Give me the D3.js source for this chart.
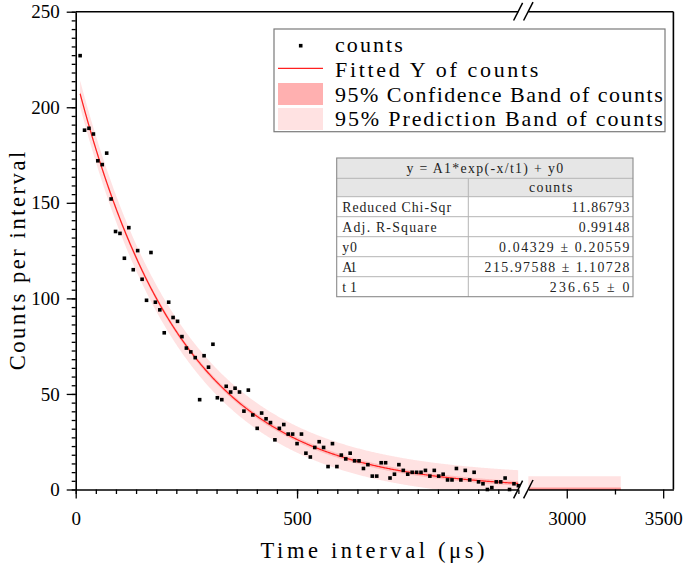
<!DOCTYPE html>
<html><head><meta charset="utf-8">
<script src="https://cdn.jsdelivr.net/npm/d3@7"></script>
<style>body{margin:0;background:#fff}svg{display:block}</style>
</head><body>
<svg id="c" width="685" height="568"></svg>
<script>
// ---------- data ----------
const timeX = [10,20,30,40,50,60,70,80,90,100,110,120,130,140,150,160,170,180,190,200,
  210,220,230,240,250,260,270,280,290,300,310,320,330,340,350,360,370,380,390,400,
  410,420,430,440,450,460,470,480,490,500,510,520,530,540,550,560,570,580,590,600,
  610,620,630,640,650,660,670,680,690,700,710,720,730,740,750,760,770,780,790,800,
  810,820,830,840,850,860,870,880,890,900,910,920,930,940,950,960,970,980,990,1000];
const counts = [227,188,189,186,172,170,176,152,135,134,121,137,115,125,110,99,124,98,94,82,
  98,90,88,80,74,72,69,47,70,64,76,48,47,54,51,53,51,41,52,39,
  32,40,37,35,26,32,34,29,29,24,29,19,17,22,25,22,12,24,12,18,
  16,19,15,15,11,13,7,7,14,14,6,8,13,10,8,9,9,9,10,7,
  10,7,8,5,5,11,5,10,5,9,4,3,0,1,4,4,6,0,3,2];
// fit parameters (from the fit table)
const fitA1 = 215.97588, fitT1 = 236.65, fitY0 = 0.04329;
const fitRange1 = [10, 1000], fitRange2 = [2800, 3280];
const predHalf = 6.9, confHalf = 1.2;
const yTicks = [0,50,100,150,200,250];
const xTicks1 = [0,500], xTicks2 = [3000,3500];
const legendLabels = ["counts","Fitted Y of counts","95% Confidence Band of counts","95% Prediction Band of counts"];
const tableTitle = "y = A1*exp(-x/t1) + y0";
const tableColHead = "counts";
const tableLabels = ["Reduced Chi-Sqr","Adj. R-Square","y0","A1","t1"];
const tableValues = ["11.86793","0.99148","0.04329 \u00b1 0.20559","215.97588 \u00b1 1.10728","236.65 \u00b1 0"];

// ---------- scales ----------
const svg = d3.select("#c");
const L=75.7, T=11.7, B=489.5, R=673.4, brk1=518.4, brk2=528.2;
const x1 = d3.scaleLinear().domain([0,1000]).range([L,brk1]);
const x2 = d3.scaleLinear().domain([2800,3553]).range([brk2,R]);
const y = d3.scaleLinear().domain([0,250]).range([B,T]);
const fit = t => fitA1*Math.exp(-t/fitT1)+fitY0;

const defs = svg.append("defs");
defs.append("clipPath").attr("id","c1").append("rect").attr("x",L).attr("y",T).attr("width",brk1-L).attr("height",B-T);
defs.append("clipPath").attr("id","c2").append("rect").attr("x",brk2).attr("y",T).attr("width",R-brk2).attr("height",B-T);

const PRED="#ffe2e2", CONF="#ffb3b3", LINE="#ff2020";

function drawSeg(xs, rng, clip){
  const g = svg.append("g").attr("clip-path",`url(#${clip})`);
  const pts = d3.range(rng[0], rng[1]+0.001, 2);
  g.append("path").datum(pts).attr("fill",PRED)
    .attr("d", d3.area().x(d=>xs(d)).y0(d=>y(fit(d)-predHalf)).y1(d=>y(fit(d)+predHalf)));
  g.append("path").datum(pts).attr("fill",CONF).attr("opacity",0.75)
    .attr("d", d3.area().x(d=>xs(d)).y0(d=>y(fit(d)-confHalf)).y1(d=>y(fit(d)+confHalf)));
  g.append("path").datum(pts).attr("fill","none").attr("stroke",LINE).attr("stroke-width",1.2)
    .attr("d", d3.line().x(d=>xs(d)).y(d=>y(fit(d))));
  return g;
}
drawSeg(x1, fitRange1, "c1");
drawSeg(x2, fitRange2, "c2");

// points
const S=3.6;
svg.append("g").selectAll("rect").data(timeX.map((t,i)=>[t,counts[i]])).join("rect")
  .attr("x",d=>x1(d[0])-S/2).attr("y",d=>y(d[1])-S/2).attr("width",S).attr("height",S).attr("fill","#000");

// ---------- axes ----------
const AX=1.6;
const SERIF="'Liberation Serif','Times New Roman',serif";
function styleAxis(sel){
  sel.attr("font-family",SERIF).attr("font-size",19);
  sel.selectAll(".domain").attr("stroke","#000").attr("stroke-width",AX);
  sel.selectAll(".tick line").attr("stroke","#000").attr("stroke-width",1.3);
  sel.selectAll(".tick text").attr("font-family",SERIF).attr("font-size",19).attr("fill","#000");
}
function minorStyle(s){ s.select(".domain").remove(); s.selectAll("line").attr("stroke","#000").attr("stroke-width",1.3); }
const fmt = d3.format("d");
// y axis
const yMinor = d3.range(0,250.001,50/11);
svg.append("g").attr("transform",`translate(${L},0)`)
  .call(d3.axisLeft(y).tickValues(yMinor).tickSize(4).tickFormat("").tickSizeOuter(0)).call(minorStyle);
svg.append("g").attr("transform",`translate(${L},0)`)
  .call(d3.axisLeft(y).tickValues(yTicks).tickFormat(fmt).tickSize(9).tickPadding(7).tickSizeOuter(0))
  .call(styleAxis);
// x axis seg1
const xMinor1 = d3.range(0,1000.001,500/11);
svg.append("g").attr("transform",`translate(0,${B})`)
  .call(d3.axisBottom(x1).tickValues(xMinor1).tickSize(4.5).tickFormat("").tickSizeOuter(0)).call(minorStyle);
svg.append("g").attr("transform",`translate(0,${B})`)
  .call(d3.axisBottom(x1).tickValues(xTicks1).tickFormat(fmt).tickSize(9).tickPadding(13).tickSizeOuter(0))
  .call(styleAxis);
// x axis seg2
svg.append("g").attr("transform",`translate(0,${B})`)
  .call(d3.axisBottom(x2).tickValues([3250]).tickSize(5).tickFormat("").tickSizeOuter(0)).call(minorStyle);
svg.append("g").attr("transform",`translate(0,${B})`)
  .call(d3.axisBottom(x2).tickValues(xTicks2).tickFormat(fmt).tickSize(9).tickPadding(13).tickSizeOuter(0))
  .call(styleAxis);
// frame: top & right
const fr = svg.append("g").attr("stroke","#000").attr("stroke-width",AX);
fr.append("line").attr("x1",L).attr("x2",brk1).attr("y1",T).attr("y2",T);
fr.append("line").attr("x1",brk2).attr("x2",R).attr("y1",T).attr("y2",T);
fr.append("line").attr("x1",R).attr("x2",R).attr("y1",T).attr("y2",B);
// break marks
const bk = svg.append("g").attr("stroke","#000").attr("stroke-width",1.5);
[B,T].forEach(yy=>{
  bk.append("line").attr("x1",513.6).attr("y1",yy+8.8).attr("x2",522.6).attr("y2",yy-8.8);
  bk.append("line").attr("x1",523.6).attr("y1",yy+8.8).attr("x2",533.0).attr("y2",yy-9.5);
});

// ---------- text helper: serif glyphs on a fixed character grid ----------
const cells = s => Array.from(s).reduce((a,c)=>a+(c==="\u00b1"||c==="\u03bc"?2:1),0);
function gridText(parent, transform, txt, size, cell, anchor, fill){
  return parent.append("text").attr("transform",transform).attr("text-anchor",anchor||"start")
    .attr("font-family",SERIF).attr("font-size",size).attr("fill",fill||"#000")
    .attr("textLength", cells(txt)*cell).attr("lengthAdjust","spacing").text(txt);
}

// ---------- titles ----------
gridText(svg, "translate(372.5,558)", "Time interval (\u03bcs)", 22.5, 11.8, "middle");
gridText(svg, "translate(25,261) rotate(-90)", "Counts per interval", 22.5, 11.5, "middle");

// ---------- legend ----------
const lg = svg.append("g");
lg.append("rect").attr("x",274).attr("y",29).attr("width",391).attr("height",102.7)
  .attr("fill","#fff").attr("stroke","#7a7a7a").attr("stroke-width",1.2);
const lgY = [52.3,77.3,101.7,126];
lg.append("rect").attr("x",300.7-S/2).attr("y",45.7-S/2).attr("width",S).attr("height",S).attr("fill","#000");
lg.append("line").attr("x1",278).attr("x2",323).attr("y1",68.3).attr("y2",68.3).attr("stroke",LINE).attr("stroke-width",1.2);
lg.append("rect").attr("x",278).attr("y",83).attr("width",45).attr("height",22).attr("fill","#ffb0b0");
lg.append("rect").attr("x",278).attr("y",108).attr("width",45).attr("height",22).attr("fill",PRED);
legendLabels.forEach((t,i)=>{
  gridText(lg, `translate(335,${lgY[i]})`, t, 22, 11.3, "start");
});

// ---------- fit table ----------
const tb = svg.append("g");
const tX0=336.7, tXm=468.3, tX1=633;
const rows=[158,178.3,196.7,216.7,236.7,256.7,276.7,296.7];
tb.append("rect").attr("x",tX0).attr("y",rows[0]).attr("width",tX1-tX0).attr("height",rows[2]-rows[0]).attr("fill","#e6e6e6");
for(let i=1;i<rows.length-1;i++){
  tb.append("line").attr("x1",tX0).attr("x2",tX1).attr("y1",rows[i]).attr("y2",rows[i]).attr("stroke","#b4b4b4").attr("stroke-width",1);
}
tb.append("line").attr("x1",tXm).attr("x2",tXm).attr("y1",rows[1]).attr("y2",rows[7]).attr("stroke","#b4b4b4").attr("stroke-width",1);
tb.append("rect").attr("x",tX0).attr("y",rows[0]).attr("width",tX1-tX0).attr("height",rows[7]-rows[0])
  .attr("fill","none").attr("stroke","#8a8a8a").attr("stroke-width",1.1);
const TC=7.25, TS=13.8;
gridText(tb, `translate(${(tX0+tX1)/2},173)`, tableTitle, TS, 7.12, "middle", "#222");
gridText(tb, `translate(${(tXm+tX1)/2},192)`, tableColHead, TS, TC, "middle", "#222");
tableLabels.forEach((t,i)=>{
  const cy=(rows[i+2]+rows[i+3])/2+4.8;
  gridText(tb, `translate(342.3,${cy})`, t, TS, TC, "start", "#222");
  gridText(tb, `translate(629.5,${cy})`, tableValues[i], TS, TC, "end", "#222");
});
</script>
</body></html>
